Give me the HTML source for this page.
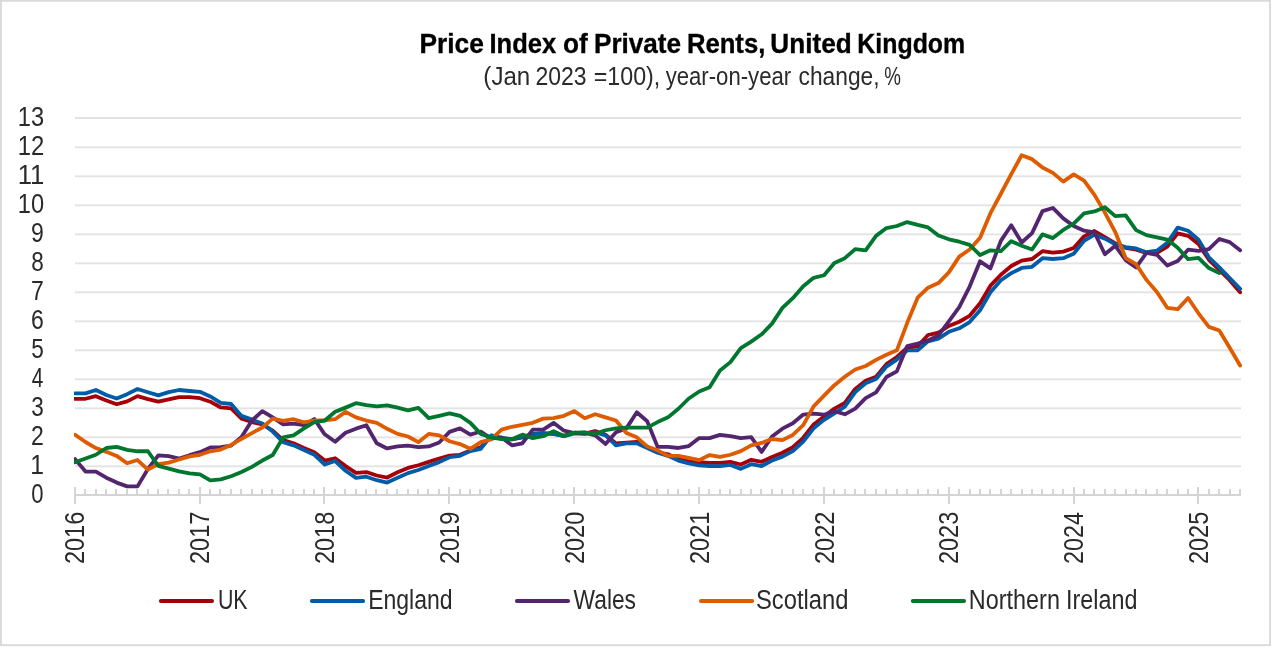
<!DOCTYPE html>
<html lang="en"><head><meta charset="utf-8"><title>Price Index of Private Rents, United Kingdom</title>
<style>html,body{margin:0;padding:0;background:#fff;}body{width:1273px;height:649px;overflow:hidden;}svg{display:block;}text{font-family:"Liberation Sans",sans-serif;fill:#2a2a2a;}</style></head><body>
<svg width="1273" height="649" viewBox="0 0 1273 649">
<rect x="0" y="0" width="1273" height="649" fill="#fff"/>
<rect x="0.9" y="0.8" width="1269.2" height="644.4" fill="#fff" stroke="#d9d9d9" stroke-width="1.9"/>
<text y="52.80" font-size="27.00" font-weight="700" style="fill:#000;stroke:#000;stroke-width:0.35px"><tspan x="419.46" textLength="64.30" lengthAdjust="spacingAndGlyphs">Price</tspan> <tspan x="489.52" textLength="66.59" lengthAdjust="spacingAndGlyphs">Index</tspan> <tspan x="563.05" textLength="24.75" lengthAdjust="spacingAndGlyphs">of</tspan> <tspan x="593.97" textLength="87.05" lengthAdjust="spacingAndGlyphs">Private</tspan> <tspan x="686.90" textLength="78.39" lengthAdjust="spacingAndGlyphs">Rents,</tspan> <tspan x="770.33" textLength="81.32" lengthAdjust="spacingAndGlyphs">United</tspan> <tspan x="857.36" textLength="107.80" lengthAdjust="spacingAndGlyphs">Kingdom</tspan></text>
<text y="84.70" font-size="26.60"><tspan x="483.35" textLength="46.92" lengthAdjust="spacingAndGlyphs">(Jan</tspan> <tspan x="535.45" textLength="51.07" lengthAdjust="spacingAndGlyphs">2023</tspan> <tspan x="593.74" textLength="66.53" lengthAdjust="spacingAndGlyphs">=100),</tspan> <tspan x="665.70" textLength="125.42" lengthAdjust="spacingAndGlyphs">year-on-year</tspan> <tspan x="798.59" textLength="80.92" lengthAdjust="spacingAndGlyphs">change,</tspan> <tspan x="884.25" textLength="16.69" lengthAdjust="spacingAndGlyphs">%</tspan></text>
<rect x="75" y="465.40" width="1166" height="1.9" fill="#e3e3e3"/>
<rect x="75" y="436.40" width="1166" height="1.9" fill="#e3e3e3"/>
<rect x="75" y="407.40" width="1166" height="1.9" fill="#e3e3e3"/>
<rect x="75" y="378.40" width="1166" height="1.9" fill="#e3e3e3"/>
<rect x="75" y="349.40" width="1166" height="1.9" fill="#e3e3e3"/>
<rect x="75" y="320.40" width="1166" height="1.9" fill="#e3e3e3"/>
<rect x="75" y="291.40" width="1166" height="1.9" fill="#e3e3e3"/>
<rect x="75" y="262.40" width="1166" height="1.9" fill="#e3e3e3"/>
<rect x="75" y="233.40" width="1166" height="1.9" fill="#e3e3e3"/>
<rect x="75" y="204.40" width="1166" height="1.9" fill="#e3e3e3"/>
<rect x="75" y="175.40" width="1166" height="1.9" fill="#e3e3e3"/>
<rect x="75" y="146.40" width="1166" height="1.9" fill="#e3e3e3"/>
<rect x="75" y="117" width="1166" height="2" fill="#e3e3e3"/>
<rect x="74" y="494" width="1167" height="2" fill="#d4d4d4"/>
<rect x="74" y="487" width="2" height="17" fill="#d4d4d4"/>
<rect x="84" y="489" width="2" height="6" fill="#d4d4d4"/>
<rect x="95" y="489" width="2" height="6" fill="#d4d4d4"/>
<rect x="105" y="489" width="2" height="6" fill="#d4d4d4"/>
<rect x="115" y="489" width="2" height="6" fill="#d4d4d4"/>
<rect x="126" y="489" width="2" height="6" fill="#d4d4d4"/>
<rect x="136" y="489" width="2" height="6" fill="#d4d4d4"/>
<rect x="147" y="489" width="2" height="6" fill="#d4d4d4"/>
<rect x="157" y="489" width="2" height="6" fill="#d4d4d4"/>
<rect x="167" y="489" width="2" height="6" fill="#d4d4d4"/>
<rect x="178" y="489" width="2" height="6" fill="#d4d4d4"/>
<rect x="188" y="489" width="2" height="6" fill="#d4d4d4"/>
<rect x="199" y="487" width="2" height="17" fill="#d4d4d4"/>
<rect x="209" y="489" width="2" height="6" fill="#d4d4d4"/>
<rect x="219" y="489" width="2" height="6" fill="#d4d4d4"/>
<rect x="230" y="489" width="2" height="6" fill="#d4d4d4"/>
<rect x="240" y="489" width="2" height="6" fill="#d4d4d4"/>
<rect x="251" y="489" width="2" height="6" fill="#d4d4d4"/>
<rect x="261" y="489" width="2" height="6" fill="#d4d4d4"/>
<rect x="271" y="489" width="2" height="6" fill="#d4d4d4"/>
<rect x="282" y="489" width="2" height="6" fill="#d4d4d4"/>
<rect x="292" y="489" width="2" height="6" fill="#d4d4d4"/>
<rect x="303" y="489" width="2" height="6" fill="#d4d4d4"/>
<rect x="313" y="489" width="2" height="6" fill="#d4d4d4"/>
<rect x="323" y="487" width="2" height="17" fill="#d4d4d4"/>
<rect x="334" y="489" width="2" height="6" fill="#d4d4d4"/>
<rect x="344" y="489" width="2" height="6" fill="#d4d4d4"/>
<rect x="355" y="489" width="2" height="6" fill="#d4d4d4"/>
<rect x="365" y="489" width="2" height="6" fill="#d4d4d4"/>
<rect x="375" y="489" width="2" height="6" fill="#d4d4d4"/>
<rect x="386" y="489" width="2" height="6" fill="#d4d4d4"/>
<rect x="396" y="489" width="2" height="6" fill="#d4d4d4"/>
<rect x="407" y="489" width="2" height="6" fill="#d4d4d4"/>
<rect x="417" y="489" width="2" height="6" fill="#d4d4d4"/>
<rect x="427" y="489" width="2" height="6" fill="#d4d4d4"/>
<rect x="438" y="489" width="2" height="6" fill="#d4d4d4"/>
<rect x="448" y="487" width="2" height="17" fill="#d4d4d4"/>
<rect x="459" y="489" width="2" height="6" fill="#d4d4d4"/>
<rect x="469" y="489" width="2" height="6" fill="#d4d4d4"/>
<rect x="479" y="489" width="2" height="6" fill="#d4d4d4"/>
<rect x="490" y="489" width="2" height="6" fill="#d4d4d4"/>
<rect x="500" y="489" width="2" height="6" fill="#d4d4d4"/>
<rect x="511" y="489" width="2" height="6" fill="#d4d4d4"/>
<rect x="521" y="489" width="2" height="6" fill="#d4d4d4"/>
<rect x="532" y="489" width="2" height="6" fill="#d4d4d4"/>
<rect x="542" y="489" width="2" height="6" fill="#d4d4d4"/>
<rect x="552" y="489" width="2" height="6" fill="#d4d4d4"/>
<rect x="563" y="489" width="2" height="6" fill="#d4d4d4"/>
<rect x="573" y="487" width="2" height="17" fill="#d4d4d4"/>
<rect x="584" y="489" width="2" height="6" fill="#d4d4d4"/>
<rect x="594" y="489" width="2" height="6" fill="#d4d4d4"/>
<rect x="604" y="489" width="2" height="6" fill="#d4d4d4"/>
<rect x="615" y="489" width="2" height="6" fill="#d4d4d4"/>
<rect x="625" y="489" width="2" height="6" fill="#d4d4d4"/>
<rect x="636" y="489" width="2" height="6" fill="#d4d4d4"/>
<rect x="646" y="489" width="2" height="6" fill="#d4d4d4"/>
<rect x="656" y="489" width="2" height="6" fill="#d4d4d4"/>
<rect x="667" y="489" width="2" height="6" fill="#d4d4d4"/>
<rect x="677" y="489" width="2" height="6" fill="#d4d4d4"/>
<rect x="688" y="489" width="2" height="6" fill="#d4d4d4"/>
<rect x="698" y="487" width="2" height="17" fill="#d4d4d4"/>
<rect x="708" y="489" width="2" height="6" fill="#d4d4d4"/>
<rect x="719" y="489" width="2" height="6" fill="#d4d4d4"/>
<rect x="729" y="489" width="2" height="6" fill="#d4d4d4"/>
<rect x="740" y="489" width="2" height="6" fill="#d4d4d4"/>
<rect x="750" y="489" width="2" height="6" fill="#d4d4d4"/>
<rect x="760" y="489" width="2" height="6" fill="#d4d4d4"/>
<rect x="771" y="489" width="2" height="6" fill="#d4d4d4"/>
<rect x="781" y="489" width="2" height="6" fill="#d4d4d4"/>
<rect x="792" y="489" width="2" height="6" fill="#d4d4d4"/>
<rect x="802" y="489" width="2" height="6" fill="#d4d4d4"/>
<rect x="812" y="489" width="2" height="6" fill="#d4d4d4"/>
<rect x="823" y="487" width="2" height="17" fill="#d4d4d4"/>
<rect x="833" y="489" width="2" height="6" fill="#d4d4d4"/>
<rect x="844" y="489" width="2" height="6" fill="#d4d4d4"/>
<rect x="854" y="489" width="2" height="6" fill="#d4d4d4"/>
<rect x="864" y="489" width="2" height="6" fill="#d4d4d4"/>
<rect x="875" y="489" width="2" height="6" fill="#d4d4d4"/>
<rect x="885" y="489" width="2" height="6" fill="#d4d4d4"/>
<rect x="896" y="489" width="2" height="6" fill="#d4d4d4"/>
<rect x="906" y="489" width="2" height="6" fill="#d4d4d4"/>
<rect x="917" y="489" width="2" height="6" fill="#d4d4d4"/>
<rect x="927" y="489" width="2" height="6" fill="#d4d4d4"/>
<rect x="937" y="489" width="2" height="6" fill="#d4d4d4"/>
<rect x="948" y="487" width="2" height="17" fill="#d4d4d4"/>
<rect x="958" y="489" width="2" height="6" fill="#d4d4d4"/>
<rect x="969" y="489" width="2" height="6" fill="#d4d4d4"/>
<rect x="979" y="489" width="2" height="6" fill="#d4d4d4"/>
<rect x="989" y="489" width="2" height="6" fill="#d4d4d4"/>
<rect x="1000" y="489" width="2" height="6" fill="#d4d4d4"/>
<rect x="1010" y="489" width="2" height="6" fill="#d4d4d4"/>
<rect x="1021" y="489" width="2" height="6" fill="#d4d4d4"/>
<rect x="1031" y="489" width="2" height="6" fill="#d4d4d4"/>
<rect x="1041" y="489" width="2" height="6" fill="#d4d4d4"/>
<rect x="1052" y="489" width="2" height="6" fill="#d4d4d4"/>
<rect x="1062" y="489" width="2" height="6" fill="#d4d4d4"/>
<rect x="1073" y="487" width="2" height="17" fill="#d4d4d4"/>
<rect x="1083" y="489" width="2" height="6" fill="#d4d4d4"/>
<rect x="1093" y="489" width="2" height="6" fill="#d4d4d4"/>
<rect x="1104" y="489" width="2" height="6" fill="#d4d4d4"/>
<rect x="1114" y="489" width="2" height="6" fill="#d4d4d4"/>
<rect x="1125" y="489" width="2" height="6" fill="#d4d4d4"/>
<rect x="1135" y="489" width="2" height="6" fill="#d4d4d4"/>
<rect x="1145" y="489" width="2" height="6" fill="#d4d4d4"/>
<rect x="1156" y="489" width="2" height="6" fill="#d4d4d4"/>
<rect x="1166" y="489" width="2" height="6" fill="#d4d4d4"/>
<rect x="1177" y="489" width="2" height="6" fill="#d4d4d4"/>
<rect x="1187" y="489" width="2" height="6" fill="#d4d4d4"/>
<rect x="1197" y="487" width="2" height="17" fill="#d4d4d4"/>
<rect x="1208" y="489" width="2" height="6" fill="#d4d4d4"/>
<rect x="1218" y="489" width="2" height="6" fill="#d4d4d4"/>
<rect x="1229" y="489" width="2" height="6" fill="#d4d4d4"/>
<rect x="1239" y="489" width="2" height="6" fill="#d4d4d4"/>
<text transform="translate(31.32 502.80) scale(0.8119 1)" font-size="27.20">0</text>
<text transform="translate(30.23 473.80) scale(0.9063 1)" font-size="27.20">1</text>
<text transform="translate(31.05 444.80) scale(0.8472 1)" font-size="27.20">2</text>
<text transform="translate(31.30 415.80) scale(0.8292 1)" font-size="27.20">3</text>
<text transform="translate(31.78 386.80) scale(0.7641 1)" font-size="27.20">4</text>
<text transform="translate(31.30 357.80) scale(0.8292 1)" font-size="27.20">5</text>
<text transform="translate(31.05 328.80) scale(0.8472 1)" font-size="27.20">6</text>
<text transform="translate(31.05 299.80) scale(0.8472 1)" font-size="27.20">7</text>
<text transform="translate(31.30 270.80) scale(0.8292 1)" font-size="27.20">8</text>
<text transform="translate(31.05 241.80) scale(0.8472 1)" font-size="27.20">9</text>
<text transform="translate(17.81 212.80) scale(0.8690 1)" font-size="27.20">10</text>
<text transform="translate(17.64 183.80) scale(0.9454 1)" font-size="27.20">11</text>
<text transform="translate(17.79 154.80) scale(0.8779 1)" font-size="27.20">12</text>
<text transform="translate(17.81 125.80) scale(0.8690 1)" font-size="27.20">13</text>
<text transform="translate(84.10 564.08) rotate(-90) scale(0.8647 1)" font-size="27.20">2016</text>
<text transform="translate(209.00 564.08) rotate(-90) scale(0.8688 1)" font-size="27.20">2017</text>
<text transform="translate(333.90 564.08) rotate(-90) scale(0.8647 1)" font-size="27.20">2018</text>
<text transform="translate(458.80 564.08) rotate(-90) scale(0.8647 1)" font-size="27.20">2019</text>
<text transform="translate(583.70 564.08) rotate(-90) scale(0.8647 1)" font-size="27.20">2020</text>
<text transform="translate(708.60 564.08) rotate(-90) scale(0.8688 1)" font-size="27.20">2021</text>
<text transform="translate(833.50 564.08) rotate(-90) scale(0.8688 1)" font-size="27.20">2022</text>
<text transform="translate(958.40 564.08) rotate(-90) scale(0.8647 1)" font-size="27.20">2023</text>
<text transform="translate(1083.30 564.07) rotate(-90) scale(0.8607 1)" font-size="27.20">2024</text>
<text transform="translate(1208.20 564.08) rotate(-90) scale(0.8647 1)" font-size="27.20">2025</text>
<defs><clipPath id="plotclip"><rect x="74" y="100" width="1180" height="410"/></clipPath></defs>
<g clip-path="url(#plotclip)">
<polyline points="75.10,398.78 85.50,398.78 95.90,396.17 106.31,400.52 116.71,404.29 127.11,401.39 137.51,396.17 147.91,399.07 158.31,401.68 168.72,399.36 179.12,397.04 189.52,397.19 199.92,398.20 210.32,401.68 220.72,407.48 231.13,408.35 241.53,418.62 251.93,422.07 262.33,424.42 272.73,430.68 283.14,440.13 293.54,443.27 303.94,447.99 314.34,452.23 324.74,460.55 335.14,458.23 345.55,466.06 355.95,472.82 366.35,472.03 376.75,475.49 387.15,477.52 397.56,472.32 407.96,467.95 418.36,465.28 428.76,461.83 439.16,458.52 449.56,455.62 459.97,454.84 470.37,450.43 480.77,447.30 491.17,436.77 501.57,438.22 511.97,439.38 522.38,437.35 532.78,434.16 543.18,433.29 553.58,433.87 563.98,435.90 574.39,432.71 584.79,433.58 595.19,431.12 605.59,434.74 615.99,443.35 626.39,442.57 636.80,441.79 647.20,447.21 657.60,452.00 668.00,454.34 678.40,459.07 688.81,461.42 699.21,462.12 709.61,462.90 720.01,462.90 730.41,461.83 740.81,464.49 751.22,459.77 761.62,461.83 772.02,456.93 782.42,452.72 792.82,447.21 803.23,437.79 813.63,424.42 824.03,416.47 834.43,408.64 844.83,402.93 855.23,388.92 865.64,380.80 876.04,376.74 886.44,364.12 896.84,357.02 907.24,347.74 917.64,346.29 928.05,334.98 938.45,332.57 948.85,325.99 959.25,321.73 969.65,315.78 980.06,303.20 990.46,285.68 1000.86,274.69 1011.26,266.05 1021.66,260.57 1032.06,259.00 1042.47,251.17 1052.87,252.71 1063.27,251.61 1073.67,247.98 1084.07,236.38 1094.47,231.02 1104.88,237.08 1115.28,243.34 1125.68,247.81 1136.08,249.72 1146.48,252.85 1156.89,252.85 1167.29,246.53 1177.69,233.28 1188.09,235.80 1198.49,244.01 1208.89,259.81 1219.30,269.93 1229.70,280.17 1240.10,292.35" fill="none" stroke="#A50008" stroke-width="3.80" stroke-linejoin="round" stroke-linecap="round"/>
<polyline points="75.10,393.42 85.50,393.42 95.90,389.99 106.31,395.01 116.71,398.49 127.11,394.14 137.51,388.98 147.91,392.25 158.31,395.42 168.72,392.11 179.12,389.99 189.52,391.01 199.92,391.82 210.32,396.46 220.72,402.84 231.13,404.00 241.53,415.89 251.93,419.66 262.33,423.43 272.73,431.55 283.14,442.16 293.54,445.33 303.94,450.02 314.34,454.75 324.74,464.49 335.14,461.01 345.55,470.76 355.95,477.83 366.35,476.73 376.75,480.18 387.15,482.59 397.56,477.83 407.96,473.11 418.36,469.98 428.76,466.06 439.16,462.12 449.56,457.22 459.97,455.85 470.37,451.12 480.77,448.78 491.17,435.41 501.57,437.79 511.97,439.03 522.38,437.06 532.78,433.87 543.18,433.06 553.58,433.87 563.98,436.19 574.39,433.38 584.79,433.87 595.19,432.28 605.59,435.41 615.99,445.33 626.39,443.27 636.80,443.27 647.20,447.99 657.60,452.72 668.00,455.85 678.40,460.55 688.81,463.39 699.21,465.28 709.61,466.06 720.01,466.06 730.41,464.96 740.81,468.87 751.22,464.18 761.62,466.06 772.02,460.55 782.42,456.64 792.82,451.12 803.23,441.70 813.63,428.36 824.03,419.81 834.43,413.28 844.83,406.70 855.23,392.11 865.64,383.32 876.04,379.06 886.44,366.59 896.84,359.63 907.24,350.35 917.64,350.35 928.05,341.36 938.45,338.55 948.85,331.79 959.25,328.31 969.65,322.05 980.06,310.27 990.46,292.35 1000.86,280.20 1011.26,273.12 1021.66,267.93 1032.06,266.83 1042.47,258.19 1052.87,259.00 1063.27,258.19 1073.67,253.81 1084.07,240.90 1094.47,234.64 1104.88,238.70 1115.28,244.36 1125.68,247.17 1136.08,248.44 1146.48,252.24 1156.89,250.71 1167.29,242.76 1177.69,227.59 1188.09,230.75 1198.49,239.60 1208.89,257.29 1219.30,267.41 1229.70,278.14 1240.10,288.87" fill="none" stroke="#005CA8" stroke-width="3.80" stroke-linejoin="round" stroke-linecap="round"/>
<polyline points="75.10,459.10 85.50,471.57 95.90,471.57 106.31,477.66 116.71,482.59 127.11,486.36 137.51,486.36 147.91,468.96 158.31,455.33 168.72,456.20 179.12,458.67 189.52,455.19 199.92,452.14 210.32,447.50 220.72,447.21 231.13,445.62 241.53,437.06 251.93,420.53 262.33,411.08 272.73,417.34 283.14,424.42 293.54,423.63 303.94,425.20 314.34,419.08 324.74,434.31 335.14,441.70 345.55,432.74 355.95,428.65 366.35,425.20 376.75,443.27 387.15,448.46 397.56,446.43 407.96,445.62 418.36,447.21 428.76,446.43 439.16,442.48 449.56,431.84 459.97,428.36 470.37,434.62 480.77,431.55 491.17,438.57 501.57,437.47 511.97,445.33 522.38,443.27 532.78,429.61 543.18,429.61 553.58,422.85 563.98,430.68 574.39,433.06 584.79,432.74 595.19,435.41 605.59,444.05 615.99,432.28 626.39,428.36 636.80,412.26 647.20,421.28 657.60,446.89 668.00,446.89 678.40,447.99 688.81,446.11 699.21,438.10 709.61,438.10 720.01,434.94 730.41,436.19 740.81,438.10 751.22,437.06 761.62,451.91 772.02,436.51 782.42,428.65 792.82,423.31 803.23,414.53 813.63,413.57 824.03,414.73 834.43,411.11 844.83,414.30 855.23,408.64 865.64,398.20 876.04,392.40 886.44,377.03 896.84,371.38 907.24,346.00 917.64,343.68 928.05,340.49 938.45,335.42 948.85,321.35 959.25,307.14 969.65,286.55 980.06,261.32 990.46,268.40 1000.86,240.90 1011.26,225.22 1021.66,242.47 1032.06,233.07 1042.47,211.15 1052.87,207.96 1063.27,218.40 1073.67,226.00 1084.07,230.70 1094.47,232.47 1104.88,254.22 1115.28,245.81 1125.68,260.16 1136.08,267.41 1146.48,252.91 1156.89,254.77 1167.29,265.50 1177.69,261.09 1188.09,249.72 1198.49,250.97 1208.89,249.08 1219.30,238.99 1229.70,242.12 1240.10,250.33" fill="none" stroke="#53256E" stroke-width="3.80" stroke-linejoin="round" stroke-linecap="round"/>
<polyline points="75.10,434.74 85.50,441.99 95.90,448.08 106.31,451.85 116.71,455.91 127.11,463.31 137.51,460.03 147.91,469.54 158.31,464.09 168.72,462.58 179.12,459.45 189.52,456.32 199.92,454.75 210.32,451.27 220.72,449.53 231.13,444.89 241.53,438.89 251.93,433.06 262.33,427.49 272.73,418.62 283.14,420.97 293.54,419.23 303.94,422.39 314.34,420.53 324.74,420.24 335.14,419.23 345.55,411.83 355.95,417.34 366.35,420.53 376.75,422.85 387.15,428.82 397.56,433.87 407.96,436.48 418.36,442.16 428.76,433.87 439.16,435.41 449.56,441.27 459.97,444.05 470.37,448.78 480.77,442.16 491.17,439.38 501.57,429.61 511.97,426.76 522.38,424.88 532.78,422.85 543.18,418.62 553.58,418.21 563.98,415.80 574.39,411.08 584.79,418.21 595.19,414.21 605.59,417.34 615.99,420.53 626.39,433.06 636.80,437.35 647.20,446.43 657.60,450.34 668.00,455.85 678.40,455.85 688.81,457.88 699.21,460.09 709.61,455.04 720.01,456.93 730.41,454.75 740.81,451.12 751.22,445.33 761.62,442.95 772.02,439.03 782.42,440.13 792.82,434.94 803.23,425.20 813.63,406.32 824.03,395.59 834.43,385.15 844.83,376.74 855.23,369.49 865.64,366.01 876.04,359.92 886.44,354.70 896.84,350.35 907.24,322.80 917.64,297.72 928.05,287.71 938.45,283.07 948.85,272.34 959.25,256.62 969.65,249.55 980.06,237.77 990.46,213.18 1000.86,193.75 1011.26,174.09 1021.66,155.24 1032.06,159.15 1042.47,167.48 1052.87,172.87 1063.27,181.63 1073.67,174.41 1084.07,180.70 1094.47,194.91 1104.88,212.60 1115.28,232.03 1125.68,258.13 1136.08,264.22 1146.48,279.88 1156.89,291.94 1167.29,307.78 1177.69,309.23 1188.09,298.03 1198.49,313.29 1208.89,326.89 1219.30,330.57 1229.70,347.83 1240.10,365.52" fill="none" stroke="#DF5B00" stroke-width="3.80" stroke-linejoin="round" stroke-linecap="round"/>
<polyline points="75.10,462.29 85.50,458.52 95.90,454.75 106.31,447.99 116.71,446.92 127.11,449.88 137.51,451.27 147.91,451.27 158.31,465.92 168.72,468.67 179.12,471.43 189.52,473.31 199.92,474.47 210.32,480.42 220.72,479.40 231.13,476.27 241.53,472.03 251.93,466.84 262.33,460.55 272.73,455.04 283.14,437.47 293.54,435.41 303.94,428.36 314.34,422.07 324.74,420.53 335.14,411.83 345.55,407.62 355.95,403.22 366.35,405.16 376.75,406.35 387.15,405.28 397.56,407.62 407.96,410.29 418.36,407.94 428.76,418.21 439.16,415.80 449.56,413.28 459.97,415.80 470.37,422.85 480.77,433.87 491.17,437.47 501.57,439.03 511.97,439.35 522.38,434.62 532.78,438.10 543.18,436.19 553.58,431.17 563.98,435.90 574.39,432.74 584.79,432.28 595.19,433.87 605.59,430.25 615.99,428.36 626.39,427.58 636.80,427.58 647.20,427.58 657.60,422.07 668.00,417.34 678.40,408.73 688.81,398.49 699.21,391.53 709.61,387.27 720.01,370.45 730.41,362.12 740.81,348.03 751.22,341.65 761.62,334.31 772.02,323.67 782.42,307.92 792.82,298.15 803.23,286.17 813.63,277.85 824.03,275.24 834.43,262.92 844.83,258.19 855.23,249.14 865.64,250.36 876.04,235.89 886.44,228.03 896.84,226.00 907.24,222.05 917.64,224.90 928.05,227.39 938.45,235.42 948.85,239.34 959.25,241.72 969.65,244.85 980.06,255.06 990.46,250.33 1000.86,251.17 1011.26,241.22 1021.66,245.66 1032.06,249.55 1042.47,234.35 1052.87,238.09 1063.27,229.91 1073.67,223.62 1084.07,213.47 1094.47,211.44 1104.88,207.24 1115.28,216.08 1125.68,215.30 1136.08,230.12 1146.48,235.16 1156.89,237.45 1167.29,239.60 1177.69,247.81 1188.09,259.17 1198.49,257.93 1208.89,268.02 1219.30,273.09" fill="none" stroke="#00762F" stroke-width="3.80" stroke-linejoin="round" stroke-linecap="round"/>
</g>
<line x1="160.90" y1="601" x2="212.00" y2="601" stroke="#A50008" stroke-width="4" stroke-linecap="round"/>
<text transform="translate(217.89 608.60) scale(0.7924 1)" font-size="27.00">UK</text>
<line x1="311.90" y1="601" x2="363.10" y2="601" stroke="#005CA8" stroke-width="4" stroke-linecap="round"/>
<text transform="translate(368.16 608.60) scale(0.8530 1)" font-size="27.00">England</text>
<line x1="516.90" y1="601" x2="568.10" y2="601" stroke="#53256E" stroke-width="4" stroke-linecap="round"/>
<text transform="translate(573.57 608.60) scale(0.8440 1)" font-size="27.00">Wales</text>
<line x1="701.00" y1="601" x2="752.20" y2="601" stroke="#DF5B00" stroke-width="4" stroke-linecap="round"/>
<text transform="translate(756.01 608.60) scale(0.8809 1)" font-size="27.00">Scotland</text>
<line x1="912.80" y1="601" x2="964.00" y2="601" stroke="#00762F" stroke-width="4" stroke-linecap="round"/>
<text y="608.60" font-size="27.00"><tspan x="968.83" textLength="91.09" lengthAdjust="spacingAndGlyphs">Northern</tspan> <tspan x="1066.10" textLength="71.38" lengthAdjust="spacingAndGlyphs">Ireland</tspan></text>
</svg></body></html>
